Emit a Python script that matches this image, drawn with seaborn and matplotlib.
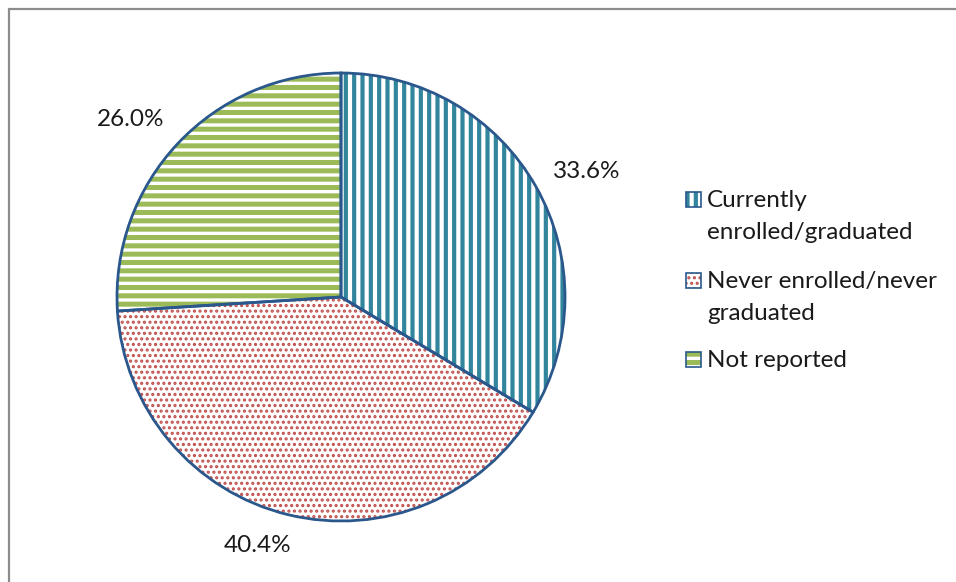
import matplotlib
matplotlib.use("Agg")
import matplotlib.pyplot as plt
import seaborn as sns
import numpy as np
from matplotlib.patches import Rectangle

# ---- data ----
categories = ["Currently\nenrolled/graduated", "Never enrolled/never\ngraduated", "Not reported"]
shares = [33.6, 40.4, 26.0]
colors = ["#31859C", "#C0504D", "#9BBB59"]
hatches = ["||", "...", "--"]
hatch_widths = [3.0, 1.5, 3.6]

sns.set_theme(style="white")
plt.rcParams['font.family'] = ['Lato', 'DejaVu Sans']

W, H = 956, 582
fig = plt.figure(figsize=(W / 100, H / 100), dpi=100)
fig.patch.set_facecolor("white")

cx, cy, r = 341, 297, 224
ax = fig.add_axes([(cx - r) / W, (H - cy - r) / H, 2 * r / W, 2 * r / H])

edge = "#2A578C"
txt_color = "#1a1a1a"
fs = 17.5

# hatched fill layers: one pie per slice so each gets its own hatch linewidth
for k, (c, h, lw) in enumerate(zip(colors, hatches, hatch_widths)):
    with plt.rc_context({"hatch.linewidth": lw}):
        wedges, _ = ax.pie(shares, startangle=90, counterclock=False, radius=1,
                           wedgeprops=dict(linewidth=0))
        for j, w in enumerate(wedges):
            if j != k:
                w.set_visible(False)
                continue
            w.set_facecolor("white")
            w.set_edgecolor(c)
            w.set_linewidth(0)
            w.set_hatch(h)

# outline layer
ax.pie(shares, startangle=90, counterclock=False, radius=1,
       wedgeprops=dict(facecolor="none", edgecolor=edge, linewidth=2.0))

# percentage labels outside
label_dist = [1.23, 1.17, 1.23]
label_shift = [-2.5, -5, 3]
total = sum(shares)
start = 90.0
for s, d, sh in zip(shares, label_dist, label_shift):
    span = 360 * s / total
    mid = np.deg2rad(start - span / 2 + sh)
    ax.text(d * np.cos(mid), d * np.sin(mid), f"{s:.1f}%", ha="center", va="center",
            fontsize=fs, color=txt_color)
    start -= span

ax.set_xlim(-1, 1)
ax.set_ylim(-1, 1)
ax.set_aspect("equal")
ax.axis("off")

# legend (drawn manually to mimic top-aligned keys)
first_baselines = [207, 288, 367]
line_gap = 32
key_x, key_size, text_x = 686, 15, 707
for lab, c, h, lw, yb in zip(categories, colors, hatches, hatch_widths, first_baselines):
    kx = key_x / W
    ky = (H - yb) / H
    with plt.rc_context({"hatch.linewidth": lw}):
        rect = Rectangle((kx, ky), key_size / W, key_size / H, transform=fig.transFigure,
                         facecolor="white", edgecolor=c, linewidth=0, hatch=h)
    fig.add_artist(rect)
    fig.add_artist(Rectangle((kx, ky), key_size / W, key_size / H, transform=fig.transFigure,
                             facecolor="none", edgecolor=edge, linewidth=1.2))
    for i, line in enumerate(lab.split("\n")):
        fig.text(text_x / W, (H - yb - i * line_gap) / H, line, ha="left", va="baseline",
                 fontsize=fs, color=txt_color)

# chart area border (left and top visible)
fig.add_artist(Rectangle((8.5 / W, -0.2), 2.0, (H - 8.5) / H + 0.2, transform=fig.transFigure,
                         facecolor="none", edgecolor="#8c8c8c", linewidth=1.6))

fig.savefig("out.png", dpi=100, facecolor="white")
